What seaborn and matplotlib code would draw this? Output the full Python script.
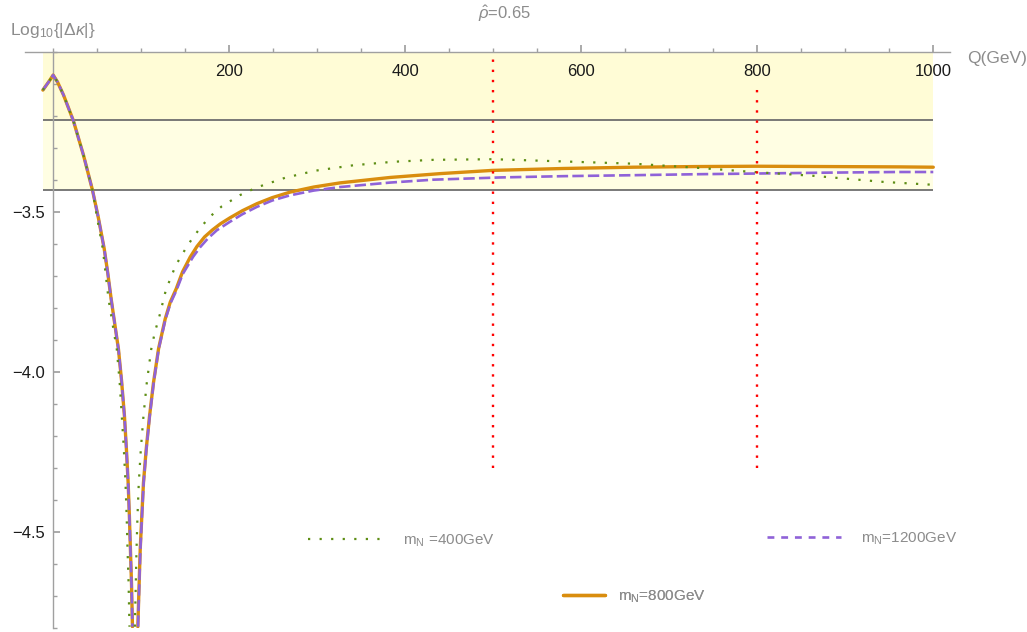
import numpy as np
import pandas as pd
import seaborn as sns
import matplotlib.pyplot as plt
from matplotlib.lines import Line2D
from matplotlib.ticker import FixedLocator, MultipleLocator

# curves, split into the branch left and right of the dip
q_400_left = [-11.7, -5, 0, 5, 11.7, 23, 34.5, 44.7, 50, 56.4, 59.5, 62.9, 67.5, 72.3, 75.5, 78,
              80.3, 82.2, 83.5, 84.5, 85.7, 86.7]
y_400_left = [-3.119, -3.093, -3.072, -3.094, -3.134, -3.215, -3.323, -3.432, -3.52, -3.615, -3.69,
              -3.772, -3.85, -3.929, -4.03, -4.138, -4.24, -4.346, -4.45, -4.555, -4.66, -4.796]
q_400_right = [92.8, 93.9, 94.7, 95.8, 97.3, 99.6, 102.6, 106.4, 111.4, 115.5, 120.4, 128.4, 133.5,
               139, 150, 157.5, 167, 178, 191.7, 212.5, 231.5, 263.6, 297.7, 341, 386.7, 432, 500,
               591, 659, 727.6, 795.8, 864, 943.6, 1000]
y_400_right = [-4.796, -4.66, -4.555, -4.451, -4.346, -4.242, -4.138, -4.033, -3.929, -3.876, -3.829,
               -3.740, -3.707, -3.668, -3.617, -3.585, -3.550, -3.515, -3.482, -3.447, -3.423, -3.393,
               -3.371, -3.354, -3.343, -3.337, -3.335, -3.343, -3.349, -3.361, -3.375, -3.387, -3.406,
               -3.415]

q_800_left = [-11.7, -5, 0, 5, 11.7, 23, 34.5, 44.7, 51.5, 58, 62, 65.9, 70, 74.2, 77.8, 81, 83.2,
              85.2, 86.6, 87.8, 89, 90.1]
y_800_left = [-3.119, -3.093, -3.072, -3.094, -3.134, -3.215, -3.323, -3.432, -3.52, -3.615, -3.69,
              -3.772, -3.85, -3.929, -4.03, -4.138, -4.24, -4.346, -4.45, -4.555, -4.66, -4.796]
q_800_right = [96.2, 97.7, 98.9, 100.7, 102.6, 105.7, 109.5, 114, 119.7, 127.3, 133, 139.8, 147,
               155.7, 163.3, 172, 181, 190, 201, 215, 231.5, 249, 269, 296, 326, 383, 440, 499,
               580, 659, 730, 800, 880, 962, 1000]
y_800_right = [-4.796, -4.66, -4.555, -4.451, -4.346, -4.242, -4.138, -4.033, -3.928, -3.834,
               -3.782, -3.740, -3.687, -3.641, -3.608, -3.578, -3.556, -3.537, -3.518, -3.496,
               -3.474, -3.455, -3.438, -3.422, -3.409, -3.392, -3.380, -3.370, -3.364, -3.360,
               -3.358, -3.357, -3.358, -3.359, -3.360]

q_1200_left = q_800_left
y_1200_left = y_800_left
q_1200_right = [96.4, 97.9, 99.1, 100.9, 102.8, 105.9, 109.7, 114.2, 119.9, 127.5, 133.2, 140, 147.2,
                159, 167, 176, 186, 200, 215, 231.5, 249, 269, 296, 326, 383, 432, 508, 580, 659,
                730, 792, 880, 959, 1000]
y_1200_right = [-4.796, -4.66, -4.555, -4.451, -4.346, -4.242, -4.138, -4.033, -3.928, -3.836,
                -3.786, -3.745, -3.694, -3.640, -3.610, -3.582, -3.557, -3.532, -3.507, -3.484,
                -3.464, -3.448, -3.433, -3.422, -3.408, -3.399, -3.392, -3.388, -3.385, -3.382,
                -3.380, -3.377, -3.375, -3.375]

band_q = [-11.7, 1000]
band_outer = [-3.432, -3.0]
band_inner = [-3.214, -3.0]
ref_levels = [-3.214, -3.432]
cut_q = [500, 800]
cut_bottom = [-4.30, -4.30]
cut_top = [-3.0, -3.10]

x_major = [200, 400, 600, 800, 1000]
y_major = [-4.5, -4.0, -3.5]


def branches(ql, yl, qr, yr):
    return pd.DataFrame({
        "Q": ql + qr,
        "y": yl + yr,
        "branch": ["left"] * len(ql) + ["right"] * len(qr),
    })


sns.set_theme(style="white")
plt.rcParams["font.family"] = ["Liberation Sans", "DejaVu Sans"]
plt.rcParams["mathtext.fontset"] = "custom"
plt.rcParams["mathtext.rm"] = "Liberation Sans"
plt.rcParams["mathtext.it"] = "Liberation Sans:italic"

fig = plt.figure(figsize=(10.27, 6.32), dpi=100)
ax = fig.add_axes([25 / 1027, 4 / 632, 925 / 1027, 576 / 632])

# shaded bands and reference lines
ax.fill_between(band_q, band_outer[0], band_outer[1], color="#FFFEE3", lw=0, zorder=0)
ax.fill_between(band_q, band_inner[0], band_inner[1], color="#FFFCD6", lw=0, zorder=0)
ax.hlines(ref_levels, band_q[0], band_q[1], color="#6E6E6E", lw=1.3, zorder=1)

orange = "#D98D0E"
purple = "#8F62D8"
green = "#5E8E15"

sns.lineplot(data=branches(q_800_left, y_800_left, q_800_right, y_800_right), x="Q", y="y",
             units="branch", estimator=None, sort=False, color=orange, lw=2.4, ax=ax, zorder=3)
sns.lineplot(data=branches(q_1200_left, y_1200_left, q_1200_right, y_1200_right), x="Q", y="y",
             units="branch", estimator=None, sort=False, color=purple, lw=1.9,
             linestyle=(0, (4.3, 1.6)), ax=ax, zorder=4)
sns.lineplot(data=branches(q_400_left, y_400_left, q_400_right, y_400_right), x="Q", y="y",
             units="branch", estimator=None, sort=False, color=green, lw=1.6,
             linestyle=(0, (1, 4.2)), ax=ax, zorder=5)

ax.vlines(cut_q, cut_bottom, cut_top, colors="#FF0000", lw=1.7,
          linestyles=[(0, (1, 3.3))], zorder=6)

ax.set_xlim(-32, 1019)
ax.set_ylim(-4.8, -3.0)
ax.set_xlabel("")
ax.set_ylabel("")

# axes crossing at (0, -3)
for side in ["top", "right"]:
    ax.spines[side].set_visible(False)
ax.spines["bottom"].set_position(("data", -3.0))
ax.spines["left"].set_position(("data", 0))
for side in ["bottom", "left"]:
    ax.spines[side].set_color("#A0A0A0")
    ax.spines[side].set_linewidth(1.0)
    ax.spines[side].set_zorder(2)

ax.xaxis.set_major_locator(FixedLocator(x_major))
ax.xaxis.set_minor_locator(MultipleLocator(50))
ax.yaxis.set_major_locator(FixedLocator(y_major))
ax.yaxis.set_minor_locator(MultipleLocator(0.1))
ax.tick_params(axis="both", which="both", direction="in", color="#A0A0A0",
               labelcolor="#1A1A1A", labelsize=12)
ax.tick_params(axis="x", which="major", length=5, pad=9, bottom=True)
ax.tick_params(axis="x", which="minor", length=3, bottom=True)
ax.tick_params(axis="y", which="major", length=5, pad=6, left=True)
ax.tick_params(axis="y", which="minor", length=3, left=True)

gray = "#8C8C8C"
ax.text(0.519, 1 + 38 / 576, r"$\hat{\rho}$=0.65", transform=ax.transAxes,
        ha="center", va="center", color=gray, fontsize=12)
ax.text(-15 / 925, 1 + 21 / 576, r"Log$_{10}${|$\Delta\kappa$|}", transform=ax.transAxes,
        ha="left", va="center", color=gray, fontsize=12.5)
ax.text(1 + 17 / 925, 1 - 6 / 576, "Q(GeV)", transform=ax.transAxes,
        ha="left", va="center", color=gray, fontsize=12.5)

# legend entries scattered inside the frame
entries = [
    (Line2D([], [], color=green, lw=1.6, linestyle=(0, (1, 4.2))), r"m$_{\mathrm{N}}$ =400GeV",
     (283 / 925, 87 / 576), 4.9, 1.35),
    (Line2D([], [], color=purple, lw=1.9, linestyle=(0, (2.6, 2.6))), r"m$_{\mathrm{N}}$=1200GeV",
     (742 / 925, 89 / 576), 4.85, 1.3),
    (Line2D([], [], color=orange, lw=2.4), r"m$_{\mathrm{N}}$=800GeV",
     (538 / 925, 31 / 576), 2.75, 0.85),
]
for handle, label, anchor, hlen, hpad in entries:
    leg = ax.legend(handles=[handle], labels=[label], loc="center left", bbox_to_anchor=anchor,
                    frameon=False, borderpad=0, borderaxespad=0, handlelength=hlen,
                    handletextpad=hpad, fontsize=11, labelcolor=gray)
    ax.add_artist(leg)

fig.savefig("out.png", dpi=100)
